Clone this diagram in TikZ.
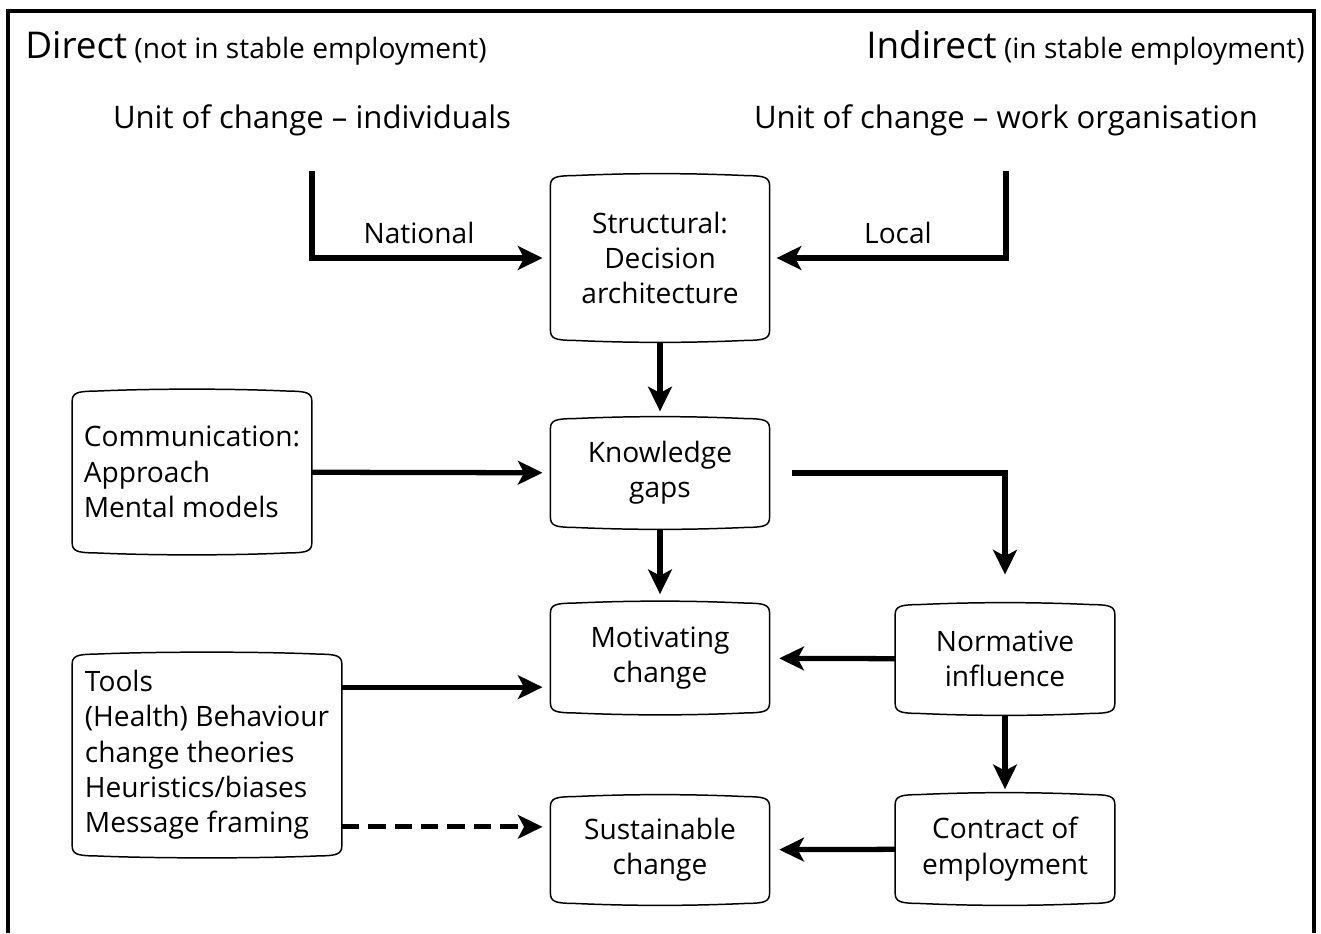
\documentclass[tikz,border=0pt]{standalone}
\usepackage{fontspec}
\setmainfont{Open Sans}
\usetikzlibrary{arrows.meta,calc}

\begin{document}
\begin{tikzpicture}[x=0.02cm, y=-0.02cm,
		>={Stealth[length=14pt,width=13.5pt,inset=3.5pt]},
		flow/.style={->, line width=3pt},
		cardnode/.style={inner sep=0pt, minimum width=4.37cm, align=center, font=\fontsize{16}{20.1}\selectfont},
		lefttext/.style={cardnode, align=left},
		outline/.style={line width=0.85pt}]
	\useasboundingbox (0,0) rectangle (1321,933);
	\draw[line width=1.9pt] (8,933) -- (8,11) -- (1314,11) -- (1314,933);

	% headings
	\node[anchor=west, inner sep=0pt, font=\fontsize{16}{18}\selectfont] (direct) at (25,48) {{\fontsize{21}{25}\selectfont Direct} (not in stable employment)};
	\node[anchor=east, inner sep=0pt, font=\fontsize{16}{18}\selectfont] (indirect) at (1305,48) {{\fontsize{21}{25}\selectfont Indirect} (in stable employment)};
	\node[font=\fontsize{17.7}{21}\selectfont] (unitL) at (312,120) {Unit of change – individuals};
	\node[font=\fontsize{17.7}{21}\selectfont] (unitR) at (1006,120) {Unit of change – work organisation};

	% boxes
	\node[cardnode, minimum height=3.36cm] (struct) at (660,258) {Structural:\\Decision\\architecture};
	\node[cardnode, minimum height=2.24cm] (know) at (660,473) {Knowledge\\gaps};
	\node[cardnode, minimum height=2.26cm] (motiv) at (660,658) {Motivating\\change};
	\node[cardnode, minimum height=2.2cm] (sust) at (660,850) {Sustainable\\change};
	\node[lefttext, minimum width=4.78cm, minimum height=3.3cm] (comm) at (192,472) {Communication:\\Approach\\Mental models};
	\node[lefttext, minimum width=5.38cm, minimum height=4.1cm] (tools) at (207,755) {Tools\\(Health) Behaviour\\change theories\\Heuristics/biases\\Message framing};
	\node[cardnode, minimum width=4.38cm, minimum height=2.24cm] (norm) at (1005,659) {Normative\\influence};
	\node[cardnode, minimum width=4.38cm, minimum height=2.24cm] (contr) at (1005,849) {Contract of\\employment};

	\foreach \b in {struct,know,motiv,sust,comm,tools,norm,contr}
		\draw[outline] ($(\b.north west)+(0,12)$) .. controls ($(\b.north west)+(0,4)$) and ($(\b.north west)+(5,2)$) .. ($(\b.north west)+(22,2)$)
			.. controls ($(\b.north west)+(80,-0.7)$) and ($(\b.north east)+(-80,-0.7)$) .. ($(\b.north east)+(-22,2)$)
			.. controls ($(\b.north east)+(-5,2)$) and ($(\b.north east)+(0,4)$) .. ($(\b.north east)+(0,12)$)
			-- ($(\b.south east)+(0,-12)$) .. controls ($(\b.south east)+(0,-4)$) and ($(\b.south east)+(-5,-2)$) .. ($(\b.south east)+(-22,-2)$)
			.. controls ($(\b.south east)+(-80,0.7)$) and ($(\b.south west)+(80,0.7)$) .. ($(\b.south west)+(22,-2)$)
			.. controls ($(\b.south west)+(5,-2)$) and ($(\b.south west)+(0,-4)$) .. ($(\b.south west)+(0,-12)$)
			-- cycle;

	% connectors
	\coordinate (natTop) at (312,171);
	\coordinate (locTop) at (1006,171);
	\coordinate (t1) at ($(tools.north east)+(0,35)$);
	\coordinate (t2) at ($(tools.south east)+(0,-31)$);
	\node[font=\fontsize{16}{18}\selectfont] (national) at (419,233) {National};
	\node[font=\fontsize{16}{18}\selectfont] (local) at (898,233) {Local};

	\draw[flow, shorten >=4.5pt] (natTop) |- (struct);
	\draw[flow, shorten >=4pt] (locTop) |- (struct);
	\draw[flow, shorten >=3pt] (struct) -- (know);
	\draw[flow, shorten >=4.5pt] (comm) -- (know);
	\draw[flow, shorten <=12.5pt, shorten >=16pt] (know.east) -| (norm.north);
	\draw[flow, shorten >=4pt] (know) -- (motiv);
	\draw[flow, shorten >=5.5pt] (norm) -- (motiv);
	\draw[flow, shorten >=4.5pt] (t1) -- (t1 -| motiv.west);
	\draw[flow, shorten >=2pt] (norm) -- (contr);
	\draw[flow, dash pattern=on 10pt off 5pt, shorten >=4.5pt] (t2) -- (t2 -| sust.west);
	\draw[flow, shorten >=5.5pt] (contr) -- (sust);
\end{tikzpicture}
\end{document}
